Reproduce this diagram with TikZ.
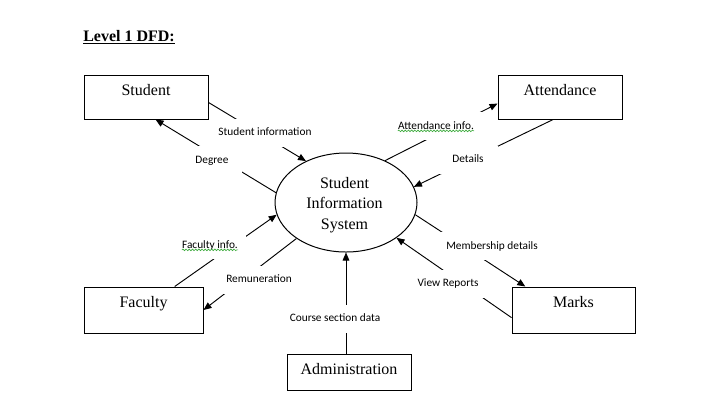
\documentclass[tikz,border=0pt]{standalone}
\usepackage{fontspec}
\setmainfont{Liberation Serif}
\newfontfamily\labelfamily{Carlito}
\usetikzlibrary{shapes.geometric,arrows.meta,decorations.pathmorphing}
\definecolor{spellgreen}{RGB}{60,170,60}

\begin{document}
\begin{tikzpicture}[
  x=0.75pt, y=-0.75pt,
  entity/.style={draw, line width=0.75pt, inner sep=0pt,
    font=\fontsize{12}{14}\selectfont},
  process/.style={ellipse, draw, line width=0.75pt, inner sep=0pt,
    minimum width=106.5pt, minimum height=74.25pt},
  processtext/.style={inner sep=0pt, align=center,
    font=\fontsize{12}{15.6}\selectfont},
  flow/.style={line width=0.7pt, -{Triangle[length=6pt,width=5pt]}},
  flowlabel/.style={fill=white, inner xsep=6pt, inner ysep=0pt,
    minimum height=21pt, minimum width=45pt,
    text height=6.5pt, text depth=1.8pt,
    font=\labelfamily\fontsize{8.5}{10}\selectfont},
  spell/.style={draw=spellgreen, line width=0.5pt, decorate,
    decoration={snake, amplitude=0.6pt, segment length=2.4pt}}
]
\useasboundingbox (0,0) rectangle (720,405);

% heading
\node[anchor=base west, inner sep=0pt, font=\fontsize{12}{14}\selectfont]
  (title) at (83,41) {\underline{\textbf{Level 1 DFD:}}};

% central process
\node[process] (sis) at (346,202.5) {};
\node[processtext] (sistext) at (344.5,205) {Student\\Information\\System};

% external entities
\node[entity, minimum width=93pt, minimum height=33pt,
  text height=8pt, text depth=10.25pt] (student) at (146,97) {Student};
\node[entity, minimum width=93pt, minimum height=33pt,
  text height=8pt, text depth=10.25pt] (attendance) at (560,97) {Attendance};
\node[entity, minimum width=89.25pt, minimum height=34.5pt,
  text height=8pt, text depth=11.75pt] (faculty) at (143.5,310) {Faculty};
\node[entity, minimum width=92.25pt, minimum height=34.5pt,
  text height=8pt, text depth=11.75pt] (marks) at (573.5,310) {Marks};
\node[entity, minimum width=93pt, minimum height=27pt,
  text height=9pt, text depth=5.25pt] (admin) at (349,372) {Administration};

% data flows
\draw[flow] (student.-5.5) -- (sis.134.4);
\draw[flow] (sis.172.3) -- (student.-67.8);
\draw[flow] (sis.47.3) -- (attendance.-174.5);
\draw[flow] (attendance.-107.65) -- (sis.13);
\draw[flow] (faculty.37.94) -- (sis.-170.6);
\draw[flow] (sis.-144.8) -- (faculty.east);
\draw[flow] (sis.-10.3) -- (marks.154.63);
\draw[flow] (marks.-173.5) -- (sis.-35.1);
\draw[flow] (sis.south |- admin.north) -- (sis.south);

% flow labels
\node[flowlabel] (lstudinfo) at (265,132.5) {Student information};
\node[flowlabel] (ldegree) at (212,160) {Degree};
\node[flowlabel] (lattinfo) at (436,126) {Attendance info.};
\node[flowlabel] (ldetails) at (468,159.5) {Details};
\node[flowlabel] (lfacinfo) at (210,245) {Faculty info.};
\node[flowlabel] (lremun) at (259,279.5) {Remuneration};
\node[flowlabel] (lmember) at (492,246) {Membership details};
\node[flowlabel] (lview) at (448,283.5) {View Reports};
\node[flowlabel] (lcourse) at (335,318.5) {Course section data};

% spelling marks under the two abbreviated labels
\draw[spell] ([xshift=6pt,yshift=-1.3pt]lattinfo.base west) -- ([xshift=-6pt,yshift=-1.3pt]lattinfo.base east);
\draw[spell] ([xshift=6pt,yshift=-1.3pt]lfacinfo.base west) -- ([xshift=-6pt,yshift=-1.3pt]lfacinfo.base east);
\end{tikzpicture}
\end{document}
